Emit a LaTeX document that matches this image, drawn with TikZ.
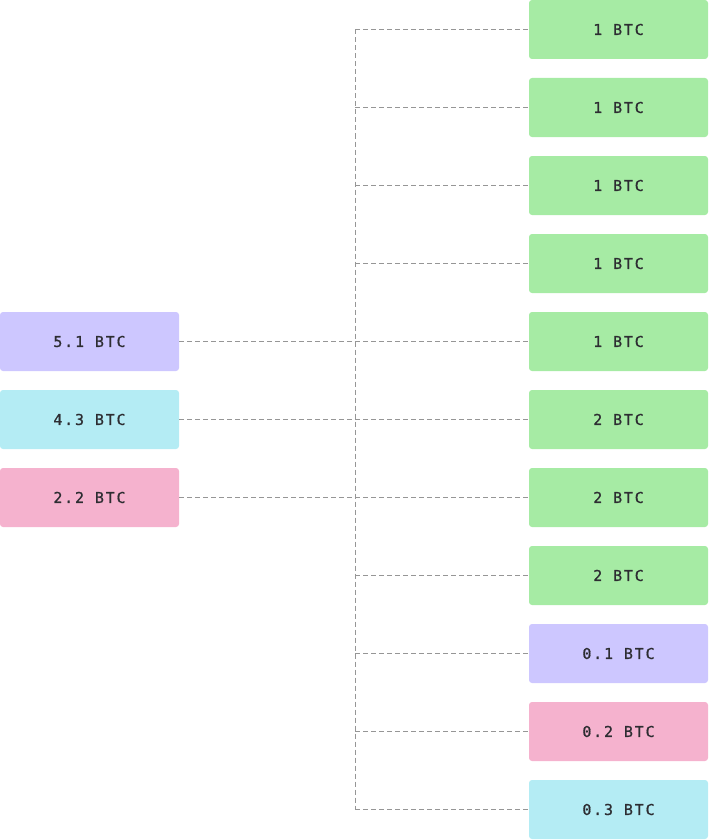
\documentclass[tikz,border=0pt]{standalone}
\usepackage{fontspec}
\newfontfamily\boxfont[LetterSpace=12,FakeBold=0.8]{DejaVu Sans Mono}
\definecolor{cgreen}{RGB}{166,235,164}
\definecolor{cpurple}{RGB}{205,199,255}
\definecolor{ccyan}{RGB}{180,236,244}
\definecolor{cpink}{RGB}{245,178,206}
\definecolor{ctext}{RGB}{45,45,50}
\definecolor{cline}{RGB}{150,150,150}
\begin{document}
\begin{tikzpicture}[x=1pt,y=1pt,
  amount/.style={rectangle, rounded corners=3pt, minimum width=179pt, minimum height=59pt,
    inner sep=0pt, text=ctext, font=\boxfont\fontsize{15}{17}\selectfont},
  link/.style={draw=cline, line width=0.9pt, dash pattern=on 5pt off 3pt}]
\useasboundingbox (0,0) rectangle (709,-840);
% right column
\foreach \i/\t/\c in {0/1 BTC/cgreen,1/1 BTC/cgreen,2/1 BTC/cgreen,3/1 BTC/cgreen,4/1 BTC/cgreen,
  5/2 BTC/cgreen,6/2 BTC/cgreen,7/2 BTC/cgreen,8/0.1 BTC/cpurple,9/0.2 BTC/cpink,10/0.3 BTC/ccyan}{
  \node[amount, fill=\c] (r\i) at (618.5,{-29.5-78*\i}) {\t};
}
% left column
\node[amount, fill=cpurple] (l0) at (89.5,-341.5) {5.1 BTC};
\node[amount, fill=ccyan] (l1) at (89.5,-419.5) {4.3 BTC};
\node[amount, fill=cpink] (l2) at (89.5,-497.5) {2.2 BTC};
% spine
\coordinate (top) at (355,-29.5);
\coordinate (bot) at (355,-809.5);
\draw[link] (top) -- (bot);
\foreach \i in {0,1,2,3,7,8,9,10}{
  \coordinate (s\i) at (355,{-29.5-78*\i});
  \draw[link] (s\i) -- (r\i.west);
}
\draw[link] (l0.east) -- (r4.west);
\draw[link] (l1.east) -- (r5.west);
\draw[link] (l2.east) -- (r6.west);
\end{tikzpicture}
\end{document}
